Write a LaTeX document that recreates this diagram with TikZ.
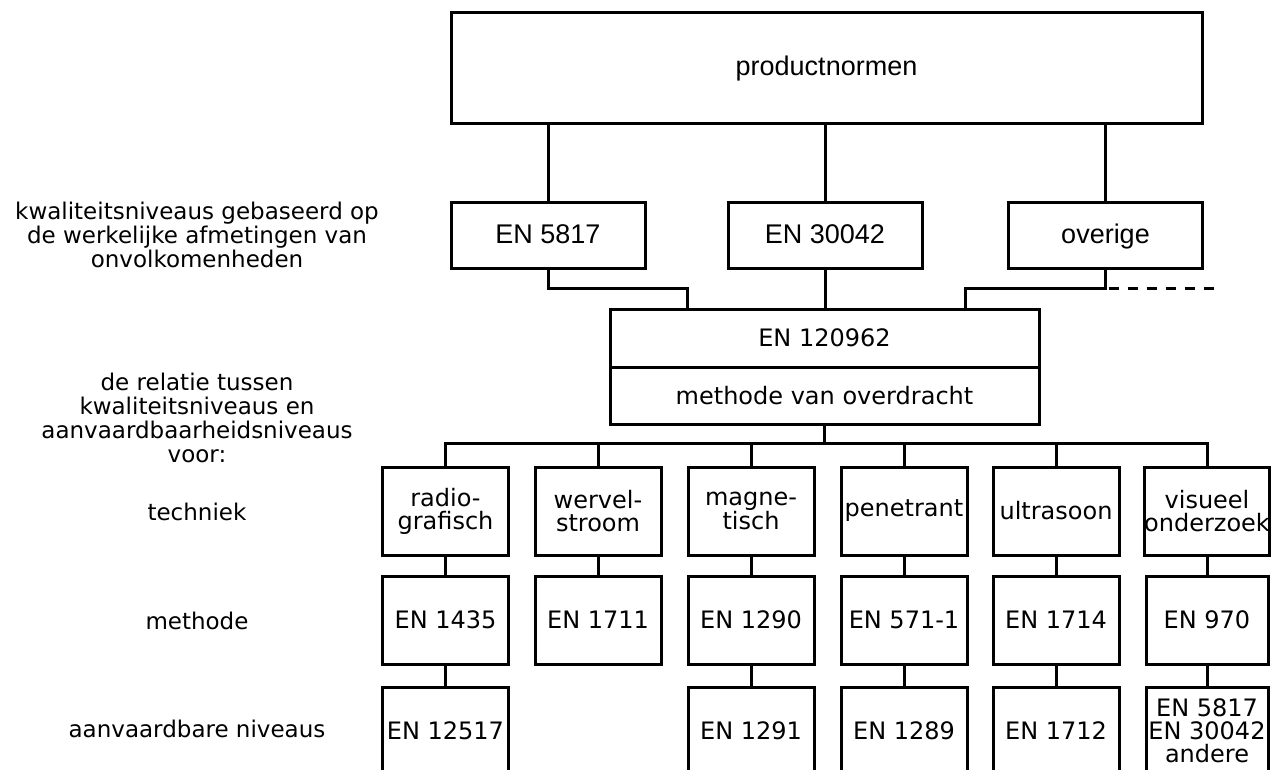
\documentclass[tikz,border=0pt]{standalone}
\usepackage{fontspec}
\setmainfont{DejaVu Sans}
\newfontfamily\helvfont{Liberation Sans}
\usetikzlibrary{positioning}

\begin{document}
\begin{tikzpicture}[
  x=1pt, y=-1pt, line width=3pt,
  normbox/.style={draw, inner sep=0pt, align=center, minimum width=194pt, minimum height=66pt, text height=21.6pt, text depth=5.4pt, font=\fontsize{27}{29}\selectfont\helvfont},
  techbox/.style={draw, inner sep=0pt, align=center, minimum width=126pt, minimum height=88pt, font=\fontsize{24}{23}\selectfont},
  rowlabel/.style={align=center, inner sep=0pt, font=\fontsize{23}{24}\selectfont}
]
  \useasboundingbox (0,0) rectangle (1271,769);
  \clip (0,0) rectangle (1271,769);

  \node[normbox, minimum width=751pt, minimum height=111pt] (prod) at (826.5,67.5) {productnormen};
  \node[normbox] (en5817) at (548,235) {EN 5817};
  \node[normbox] (en30042) at (825,235) {EN 30042};
  \node[normbox] (overige) at (1105.5,235) {overige};

  \node[techbox, minimum width=429pt, minimum height=58pt] (en120962) at (824.5,338) {EN 120962};
  \node[techbox, minimum width=429pt, minimum height=57pt] (overdracht) at (824.5,395.5) {methode van overdracht};

  \node[rowlabel] (lkwal) at (197,235) {kwaliteitsniveaus gebaseerd op\\de werkelijke afmetingen van\\onvolkomenheden};
  \node[rowlabel] (lrelatie) at (197,418) {de relatie tussen\\kwaliteitsniveaus en\\aanvaardbaarheidsniveaus\\voor:};
  \node[rowlabel, anchor=base] (ltech) at (197,520) {techniek};
  \node[rowlabel, anchor=base] (lmeth) at (197,629) {methode};
  \node[rowlabel, anchor=base] (lniv) at (197,737) {aanvaardbare niveaus};

  \node[techbox] (radio) at (445.5,511) {radio-\\grafisch};
  \node[techbox] (wervel) at (598,511) {wervel-\\stroom};
  \node[techbox] (magne) at (751,511) {magne-\\tisch};
  \node[techbox] (pene) at (904,511) {penetrant};
  \node[techbox] (ultra) at (1056,511) {ultrasoon};
  \node[techbox, minimum width=122pt] (visu) at (1207,511) {visueel\\onderzoek};

  \node[techbox] (en1435) at (445.5,620) {EN 1435};
  \node[techbox] (en1711) at (598,620) {EN 1711};
  \node[techbox] (en1290) at (751,620) {EN 1290};
  \node[techbox] (en571) at (904,620) {EN 571-1};
  \node[techbox] (en1714) at (1056,620) {EN 1714};
  \node[techbox, minimum width=122pt] (en970) at (1207,620) {EN 970};

  \node[techbox] (en12517) at (445.5,731) {EN 12517};
  \node[techbox] (en1291) at (751,731) {EN 1291};
  \node[techbox] (en1289) at (904,731) {EN 1289};
  \node[techbox] (en1712) at (1056,731) {EN 1712};
  \node[techbox, minimum width=122pt] (andere) at (1207,731) {EN 5817\\EN 30042\\andere};

  \coordinate (jl) at (687,288);
  \coordinate (jr) at (965,288);
  \coordinate (dashend) at (1222,288);
  \coordinate (bus) at (825,443);

  \draw (prod.south -| en5817) -- (en5817);
  \draw (prod.south -| en30042) -- (en30042);
  \draw (prod.south -| overige) -- (overige);

  \draw (en5817) |- (jl) -- (jl |- en120962.north);
  \draw (en30042) -- (en30042 |- en120962.north);
  \draw (overige) |- (jr) -- (jr |- en120962.north);
  \draw[dash pattern=on 10pt off 9pt, dash phase=-3pt] (overige |- jr) -- (dashend);

  \draw (overdracht) -- (overdracht |- bus);
  \draw (radio) |- (visu |- bus) -- (visu);
  \draw (wervel) -- (wervel |- bus);
  \draw (magne) -- (magne |- bus);
  \draw (pene) -- (pene |- bus);
  \draw (ultra) -- (ultra |- bus);

  \draw (radio) -- (en1435) -- (en12517);
  \draw (wervel) -- (en1711);
  \draw (magne) -- (en1290) -- (en1291);
  \draw (pene) -- (en571) -- (en1289);
  \draw (ultra) -- (en1714) -- (en1712);
  \draw (visu) -- (en970) -- (andere);
\end{tikzpicture}
\end{document}
